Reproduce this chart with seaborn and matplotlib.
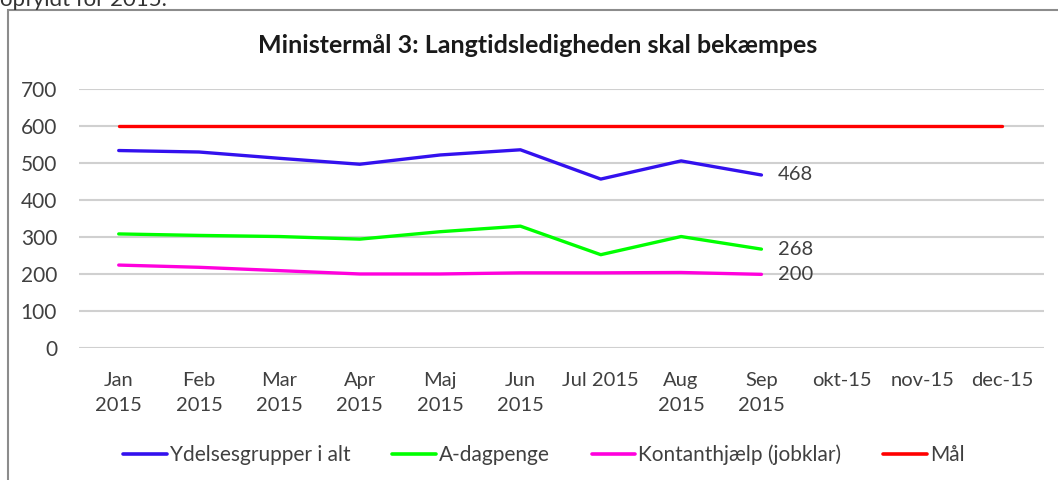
import pandas as pd
import matplotlib.pyplot as plt
import matplotlib.patches as mpatches
import seaborn as sns

# ---------------- Data ----------------
months = ["Jan\n2015", "Feb\n2015", "Mar\n2015", "Apr\n2015", "Maj\n2015", "Jun\n2015",
          "Jul 2015", "Aug\n2015", "Sep\n2015", "okt-15", "nov-15", "dec-15"]
ydelser_total = [534, 530, 513, 497, 522, 536, 457, 506, 468]
a_dagpenge = [309, 305, 302, 295, 315, 330, 253, 302, 268]
kontanthjaelp = [225, 219, 210, 201, 201, 204, 204, 205, 200]
maal = [600] * 12

series_names = ["Ydelsesgrupper i alt", "A-dagpenge", "Kontanthjælp (jobklar)", "Mål"]
series_values = [ydelser_total, a_dagpenge, kontanthjaelp, maal]
colors = ["#3311ee", "#00ff00", "#ff00dd", "#ff0000"]

rows = []
for name, vals in zip(series_names, series_values):
    for i, v in enumerate(vals):
        rows.append({"pos": i, "value": v, "serie": name})
df = pd.DataFrame(rows)

# ---------------- Settings ----------------
sns.set_style("white")
plt.rcParams['font.family'] = ['Lato', 'DejaVu Sans']

fig = plt.figure(figsize=(10.58, 4.8), dpi=100)
ax = fig.add_axes([0.075, 0.274, 0.912, 0.5406])

sns.lineplot(data=df, x="pos", y="value", hue="serie", hue_order=series_names,
             palette=colors, linewidth=2.4, sort=False, ax=ax, legend=False)

# end labels for the three series with data
for vals in series_values[:3]:
    ax.annotate(f"{vals[-1]}", xy=(len(vals) - 1, vals[-1]), xytext=(12, 0),
                textcoords="offset points", va="center", ha="left",
                fontsize=14.5, color="#404040")

ax.set_ylim(0, 700)
ax.set_yticks(range(0, 701, 100))
ax.set_xlim(-0.49, 11.52)
ax.set_xticks(range(len(months)))
ax.set_xticklabels(months, linespacing=1.55, va="top")
ax.tick_params(axis="x", length=0, pad=17, labelsize=14.5, labelcolor="#404040")
ax.tick_params(axis="y", length=0, pad=16, labelsize=15, labelcolor="#404040")
ax.yaxis.grid(True, color="#d0d0d0", linewidth=1.5)
ax.set_axisbelow(True)
ax.set_xlabel("")
ax.set_ylabel("")
for s in ax.spines.values():
    s.set_visible(False)

# title
fig.text(0.508, 0.905, "Ministermål 3: Langtidsledigheden skal bekæmpes",
         ha="center", va="center", fontsize=18, fontweight="bold", color="#1a1a1a")

# legend
handles = [plt.Line2D([], [], color=c, linewidth=2.6) for c in colors]
fig.legend(handles, series_names, loc="center", bbox_to_anchor=(0.514, 0.052),
           ncol=4, frameon=False, fontsize=15, handlelength=2.1,
           handletextpad=0.15, columnspacing=2.0, labelcolor="#404040")

# chart frame (cut by the image edges)
frame = mpatches.Rectangle((8 / 1058, -0.2), 1.2, 1.2 - 10 / 480,
                           transform=fig.transFigure, fill=False,
                           edgecolor="#8c8c8c", linewidth=1.5)
fig.patches.append(frame)

# cut text above the chart
fig.text(0.0, 1 - 6 / 480, "opfyldt for 2015.", ha="left", va="baseline",
         fontsize=16, color="#333333")

plt.savefig("out.png", dpi=100)
